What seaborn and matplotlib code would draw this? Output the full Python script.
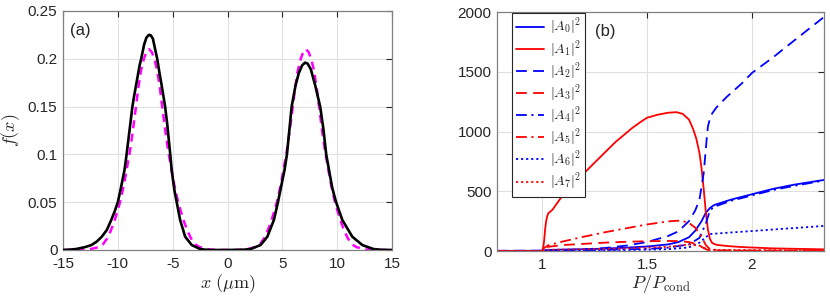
import numpy as np
import pandas as pd
import seaborn as sns
import matplotlib
matplotlib.use("Agg")
import matplotlib.pyplot as plt
from matplotlib.ticker import FuncFormatter

# ---- panel (a): profiles f(x) ----
x_black = [-15, -14.5, -13.8, -13, -12.4, -11.9, -11.46, -11, -10.6, -10.3, -10, -9.7,
           -9.39, -9.2, -8.67, -8.5, -8, -7.87, -7.6, -7.4, -7.2, -7.1, -7.0, -6.8, -6.6,
           -6.41, -6.2, -6, -5.69, -5.5, -5.22, -5.09, -4.85, -4.63, -4.32, -3.86, -3.26,
           -2.5, -2, -1.5, 0,
           1.5, 2.1, 3.02, 3.63, 4.23, 4.6, 5.2, 5.42, 5.85, 6.2, 6.5, 6.8, 7.07, 7.3,
           7.6, 8, 8.45, 8.75, 9.0, 9.25, 9.55, 9.9, 10.47, 11.38, 12.29, 13.3, 14, 15]
f_black = [0, 0.0003, 0.001, 0.003, 0.0052, 0.009, 0.0139, 0.021, 0.0314, 0.04, 0.05,
           0.066, 0.0837, 0.1, 0.15, 0.162, 0.194, 0.2, 0.215, 0.222, 0.2248, 0.225,
           0.2245, 0.221, 0.21, 0.2, 0.185, 0.172, 0.15, 0.132, 0.1, 0.0837, 0.063, 0.05,
           0.0314, 0.0139, 0.0052, 0.001, 0.0003, 0, 0,
           0.0003, 0.001, 0.0052, 0.0139, 0.0314, 0.05, 0.0837, 0.1, 0.15, 0.172, 0.185,
           0.193, 0.196, 0.195, 0.189, 0.172, 0.15, 0.126, 0.1, 0.084, 0.065, 0.05,
           0.0314, 0.0139, 0.0052, 0.001, 0.0002, 0]

x_mag = [-15, -13.35, -12.65, -11.75, -11.35, -10.98, -10.65, -10.28, -9.8, -9.45, -9.2,
         -8.9, -8.65, -8.4, -8.15, -7.9, -7.65, -7.4, -7.15, -6.9, -6.65, -6.4, -6.15,
         -5.9, -5.65, -5.4, -5.1, -4.85, -4.5, -4.02, -3.65, -3.32, -2.95, -2.55, -1.65,
         -0.95, 0,
         0.95, 1.65, 2.55, 2.95, 3.32, 3.65, 4.02, 4.5, 4.85, 5.1, 5.4, 5.65, 5.9, 6.15,
         6.4, 6.65, 6.9, 7.15, 7.4, 7.65, 7.9, 8.15, 8.4, 8.65, 8.9, 9.2, 9.45, 9.8,
         10.28, 10.65, 10.98, 11.35, 11.75, 12.65, 13.35, 15]
f_mag = [0, 0.0001, 0.0005, 0.003, 0.006, 0.012, 0.02, 0.0314, 0.05, 0.068, 0.0837,
         0.103, 0.123, 0.145, 0.168, 0.187, 0.199, 0.207, 0.21, 0.207, 0.199, 0.187,
         0.168, 0.145, 0.123, 0.103, 0.0837, 0.068, 0.05, 0.0314, 0.02, 0.012, 0.006,
         0.003, 0.0005, 0.0001, 0,
         0.0001, 0.0005, 0.003, 0.006, 0.012, 0.02, 0.0314, 0.05, 0.068, 0.0837, 0.103,
         0.123, 0.145, 0.168, 0.187, 0.199, 0.207, 0.21, 0.207, 0.199, 0.187, 0.168,
         0.145, 0.123, 0.103, 0.0837, 0.068, 0.05, 0.0314, 0.02, 0.012, 0.006, 0.003,
         0.0005, 0.0001, 0]

# ---- panel (b): mode populations vs P/Pcond ----
p_A0 = [0.786, 1.0, 1.02, 1.1, 1.2, 1.3, 1.4, 1.5, 1.6, 1.65, 1.7, 1.73, 1.76, 1.78, 1.8,
        1.82, 1.9, 2.0, 2.1, 2.2, 2.344]
A0 = [1, 2, 8, 12, 15, 20, 28, 38, 55, 75, 115, 170, 250, 320, 360, 385, 430, 475, 520,
      555, 595]

p_A1 = [0.786, 1.0, 1.005, 1.01, 1.015, 1.02, 1.025, 1.03, 1.05, 1.11, 1.19, 1.27, 1.35,
        1.43, 1.47, 1.5, 1.55, 1.6, 1.64, 1.67, 1.7, 1.72, 1.735, 1.75, 1.76, 1.77, 1.78,
        1.79, 1.8, 1.81, 1.83, 1.88, 1.95, 2.1, 2.344]
A1 = [0, 0, 20, 80, 180, 250, 290, 315, 345, 494, 633, 773, 912, 1030, 1080, 1115, 1140,
      1157, 1162, 1148, 1100, 1020, 940, 820, 690, 520, 330, 180, 100, 68, 52, 42, 33,
      22, 14]

p_A2 = [0.786, 1.0, 1.1, 1.2, 1.3, 1.4, 1.5, 1.6, 1.65, 1.7, 1.73, 1.75, 1.77, 1.785, 1.79,
        1.8, 1.81, 1.83, 1.88, 1.95, 2.0, 2.1, 2.2, 2.344]
A2 = [2, 3, 8, 14, 25, 45, 75, 125, 165, 250, 340, 430, 650, 950, 1040, 1110, 1150, 1200,
      1290, 1400, 1490, 1620, 1760, 1960]

p_A3 = [0.786, 1.0, 1.01, 1.03, 1.1, 1.2, 1.3, 1.4, 1.5, 1.6, 1.65, 1.7, 1.74, 1.77, 1.79,
        1.85, 2.0, 2.344]
A3 = [0, 0, 20, 35, 50, 60, 70, 77, 82, 84, 83, 75, 55, 25, 8, 3, 2, 1]

p_A4 = [0.786, 1.0, 1.1, 1.3, 1.5, 1.6, 1.7, 1.75, 1.78, 1.8, 1.82, 1.9, 2.0, 2.1, 2.2, 2.344]
A4 = [0, 1, 5, 10, 18, 28, 55, 110, 230, 340, 370, 420, 465, 510, 545, 590]

p_A5 = [0.786, 1.0, 1.01, 1.03, 1.1, 1.2, 1.3, 1.4, 1.5, 1.6, 1.66, 1.7, 1.73, 1.76, 1.78,
        1.8, 1.85, 2.0, 2.344]
A5 = [0, 0, 25, 48, 80, 120, 157, 190, 222, 248, 255, 235, 195, 120, 50, 15, 5, 3, 2]

p_A6 = [0.786, 1.0, 1.2, 1.4, 1.6, 1.7, 1.75, 1.78, 1.8, 1.9, 2.0, 2.1, 2.2, 2.344]
A6 = [0, 0, 3, 8, 15, 30, 70, 115, 142, 155, 167, 180, 192, 210]

p_A7 = [0.786, 1.0, 1.02, 1.2, 1.4, 1.6, 1.7, 1.75, 1.78, 1.8, 2.0, 2.344]
A7 = [0, 0, 10, 15, 22, 35, 55, 45, 20, 10, 8, 5]

sns.set_theme(style="white")
plt.rcParams["font.family"] = ["Liberation Sans", "DejaVu Sans"]
plt.rcParams["mathtext.fontset"] = "cm"

edge = "#262626"
grid_c = "#e0e0e0"

fig = plt.figure(figsize=(8.3, 3.0), dpi=100)
ax1 = fig.add_axes([0.0759, 0.1667, 0.3964, 0.7967])
ax2 = fig.add_axes([0.5988, 0.1633, 0.3940, 0.7967])

# (a)
sns.lineplot(x=x_black, y=f_black, ax=ax1, color="black", linewidth=1.9, zorder=3)
sns.lineplot(x=x_mag, y=f_mag, ax=ax1, color="magenta", linewidth=1.8,
             linestyle=(0, (3.2, 2.2)), zorder=2)
ax1.set_xlim(-15, 15)
ax1.set_ylim(0, 0.25)
ax1.set_xticks(np.arange(-15, 16, 5))
ax1.set_yticks([0, 0.05, 0.1, 0.15, 0.2, 0.25])
ax1.set_xlabel(r"$x\ (\mu\mathrm{m})$", fontsize=13, labelpad=1)
ax1.set_ylabel(r"$f(x)$", fontsize=13, labelpad=4)
ax1.text(0.02, 0.95, "(a)", transform=ax1.transAxes, fontsize=12, va="top", ha="left")

# (b)
series = [
    (p_A0, A0, "blue", "-", r"$|A_0|^2$"),
    (p_A1, A1, "red", "-", r"$|A_1|^2$"),
    (p_A2, A2, "blue", (0, (6, 3.5)), r"$|A_2|^2$"),
    (p_A3, A3, "red", (0, (6, 3.5)), r"$|A_3|^2$"),
    (p_A4, A4, "blue", (0, (6, 2.5, 1.2, 2.5)), r"$|A_4|^2$"),
    (p_A5, A5, "red", (0, (6, 2.5, 1.2, 2.5)), r"$|A_5|^2$"),
    (p_A6, A6, "blue", (0, (1.2, 1.6)), r"$|A_6|^2$"),
    (p_A7, A7, "red", (0, (1.2, 1.6)), r"$|A_7|^2$"),
]
for px, py, c, ls, lab in series:
    sns.lineplot(x=px, y=py, ax=ax2, color=c, linestyle=ls, linewidth=1.3, label=lab)
ax2.set_xlim(0.786, 2.343)
ax2.set_ylim(0, 2000)
ax2.set_xticks([1, 1.5, 2])
ax2.set_yticks([0, 500, 1000, 1500, 2000])
ax2.set_xlabel(r"$P/P_{\mathrm{cond}}$", fontsize=13, labelpad=1)
ax2.set_ylabel("")
ax2.text(0.30, 0.95, "(b)", transform=ax2.transAxes, fontsize=12, va="top", ha="left")
leg = ax2.legend(loc="upper left", bbox_to_anchor=(0.047, 0.997), fontsize=10.2,
                 frameon=True, fancybox=False, edgecolor=edge, framealpha=1,
                 handlelength=2.0, handletextpad=0.4, labelspacing=0.0,
                 borderpad=0.25, borderaxespad=0)
leg.get_frame().set_linewidth(0.8)

fmt = FuncFormatter(lambda v, pos: "%g" % v)
for ax in (ax1, ax2):
    ax.grid(True, color=grid_c, linewidth=0.8)
    ax.set_axisbelow(True)
    ax.xaxis.set_major_formatter(fmt)
    ax.yaxis.set_major_formatter(fmt)
    ax.tick_params(direction="in", length=4, width=0.8, top=True, right=True,
                   labelsize=11, colors=edge)
    ax.tick_params(axis="x", pad=5)
    ax.tick_params(axis="y", pad=4)
    for s in ax.spines.values():
        s.set_color("#808080")
        s.set_linewidth(0.9)
        s.set_visible(True)

fig.savefig("out.png", dpi=100)
